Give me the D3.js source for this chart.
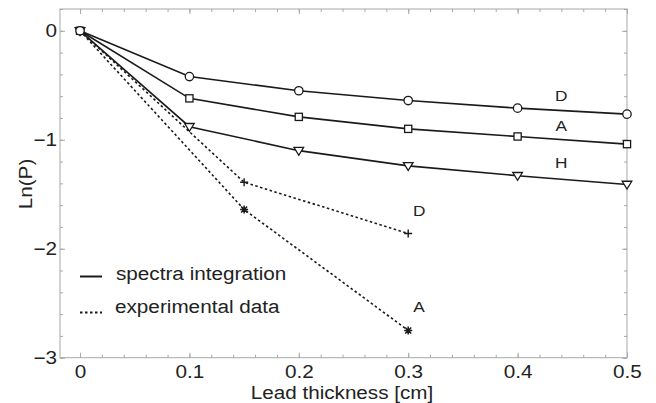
<!DOCTYPE html>
<html><head><meta charset="utf-8">
<script src="https://cdn.jsdelivr.net/npm/d3@7"></script>
<style>body{margin:0;background:#fff}svg{display:block}text{font-family:"Liberation Sans",Arial,sans-serif;fill:#222}</style>
</head><body>
<svg id="c" width="656" height="403"></svg>
<script>
const xMajor = [0, 0.1, 0.2, 0.3, 0.4, 0.5];
const yMajor = [-3, -2, -1, 0];
const xTickLabels = ["0", "0.1", "0.2", "0.3", "0.4", "0.5"];
const yTickLabels = ["\u22123", "\u22122", "\u22121", "0"];
const thickSim = [0, 0.1, 0.2, 0.3, 0.4, 0.5];
const simD = [0, -0.42, -0.55, -0.64, -0.71, -0.765];
const simA = [0, -0.62, -0.79, -0.90, -0.97, -1.04];
const simH = [0, -0.88, -1.10, -1.24, -1.33, -1.41];
const thickExp = [0, 0.15, 0.3];
const expD = [0, -1.39, -1.86];
const expA = [0, -1.64, -2.75];
const legendLabels = ["spectra integration", "experimental data"];

const svg = d3.select("#c");
const L = 60, R = 627, T = 9, B = 357.7;
const x = d3.scaleLinear().domain([-0.0183, 0.5]).range([L, R]);
const y = d3.scaleLinear().domain([-3, 0.2]).range([B, T]);
const axisColor = "#a8a8a8";
const xMinor = d3.range(0, 0.5001, 0.02);
const yMinor = d3.range(-3, 0.2001, 0.2);
const FS = 18;

function styleAxis(g) {
  g.select(".domain").remove();
  g.selectAll(".tick line").attr("stroke", axisColor);
}
// minor ticks
svg.append("g").attr("transform", `translate(0,${B})`).call(d3.axisBottom(x).tickValues(xMinor).tickSize(-3).tickFormat("")).call(styleAxis);
svg.append("g").attr("transform", `translate(0,${T})`).call(d3.axisTop(x).tickValues(xMinor).tickSize(-3).tickFormat("")).call(styleAxis);
svg.append("g").attr("transform", `translate(${L},0)`).call(d3.axisLeft(y).tickValues(yMinor).tickSize(-3).tickFormat("")).call(styleAxis);
svg.append("g").attr("transform", `translate(${R},0)`).call(d3.axisRight(y).tickValues(yMinor).tickSize(-3).tickFormat("")).call(styleAxis);
// major ticks with labels
const gx = svg.append("g").attr("transform", `translate(0,${B})`)
  .call(d3.axisBottom(x).tickValues(xMajor).tickSize(-5).tickPadding(8).tickFormat((d, i) => xTickLabels[i])).call(styleAxis);
gx.selectAll("text").attr("font-size", FS).attr("fill", "#222").attr("dy", "0.71em").classed("wide", true);
svg.append("g").attr("transform", `translate(0,${T})`).call(d3.axisTop(x).tickValues(xMajor).tickSize(-5).tickFormat("")).call(styleAxis);
const gy = svg.append("g").attr("transform", `translate(${L},0)`)
  .call(d3.axisLeft(y).tickValues(yMajor).tickSize(-5).tickPadding(3).tickFormat((d, i) => yTickLabels[i])).call(styleAxis);
gy.selectAll("text").attr("font-size", FS).attr("fill", "#222").classed("wide", true);
svg.append("g").attr("transform", `translate(${R},0)`).call(d3.axisRight(y).tickValues(yMajor).tickSize(-5).tickFormat("")).call(styleAxis);
// frame
svg.append("rect").attr("x", L).attr("y", T).attr("width", R - L).attr("height", B - T)
  .attr("fill", "none").attr("stroke", axisColor).attr("stroke-width", 1);

const line = d3.line().x(d => x(d[0])).y(d => y(d[1]));
const ink = "#1a1a1a";
const DASH = "2.5,2.5";
function drawSeries(xs, ys, dashed, marker) {
  const pts = xs.map((v, i) => [v, ys[i]]);
  svg.append("path").datum(pts).attr("d", line).attr("fill", "none").attr("stroke", ink)
    .attr("stroke-width", 1.6).attr("stroke-dasharray", dashed ? DASH : null);
  const g = svg.append("g");
  pts.forEach(p => marker(g.append("g").attr("transform", `translate(${x(p[0])},${y(p[1])})`)));
}
const mCircle = g => g.append("circle").attr("r", 4.2).attr("fill", "#fff").attr("stroke", ink).attr("stroke-width", 1.3);
const mSquare = g => g.append("rect").attr("x", -3.6).attr("y", -3.6).attr("width", 7.2).attr("height", 7.2).attr("fill", "#fff").attr("stroke", ink).attr("stroke-width", 1.3);
const mTri = g => g.append("path").attr("d", "M-4.8,-3.2L4.8,-3.2L0,4.6Z").attr("fill", "#fff").attr("stroke", ink).attr("stroke-width", 1.3);
const mPlus = g => g.append("path").attr("d", "M-4,0L4,0M0,-4L0,4").attr("stroke", ink).attr("stroke-width", 1.4);
const mStar = g => g.append("path").attr("d", "M-4,0L4,0M0,-4L0,4M-3,-3L3,3M-3,3L3,-3").attr("stroke", ink).attr("stroke-width", 1.5);

drawSeries(thickExp, expD, true, mPlus);
drawSeries(thickExp, expA, true, mStar);
drawSeries(thickSim, simH, false, mTri);
drawSeries(thickSim, simA, false, mSquare);
drawSeries(thickSim, simD, false, mCircle);

// series labels
const lab = (t, px, py) => svg.append("text").attr("x", px).attr("y", py).attr("text-anchor", "middle")
  .attr("dominant-baseline", "central").attr("font-size", 15).classed("wide", true).text(t);
lab("D", x(0.44), y(-0.59));
lab("A", x(0.44), y(-0.87));
lab("H", x(0.44), y(-1.21));
lab("D", x(0.31), y(-1.65));
lab("A", x(0.31), y(-2.53));

// legend
const lx0 = 80, lx1 = 102;
svg.append("line").attr("x1", lx0).attr("x2", lx1).attr("y1", 276.5).attr("y2", 276.5).attr("stroke", ink).attr("stroke-width", 2);
svg.append("line").attr("x1", lx0).attr("x2", lx1).attr("y1", 312.5).attr("y2", 312.5).attr("stroke", ink).attr("stroke-width", 1.8).attr("stroke-dasharray", DASH);
svg.append("text").attr("x", 116).attr("y", 280).attr("font-size", FS).classed("wide", true).text(legendLabels[0]);
svg.append("text").attr("x", 115).attr("y", 313).attr("font-size", FS).classed("wide", true).text(legendLabels[1]);

// axis titles
svg.append("text").attr("x", 342).attr("y", 398.5).attr("text-anchor", "middle").attr("font-size", 17.5).attr("data-k", 1.18).classed("wide", true).text("Lead thickness [cm]");
svg.append("text").attr("transform", "translate(32,184) rotate(-90)").attr("text-anchor", "middle").attr("font-size", FS).classed("wide", true).text("Ln(P)");

// widen glyphs to match the reference typeface proportions
svg.selectAll("text.wide").each(function () {
  const k = +(this.getAttribute("data-k") || 1.15);
  const w = this.getComputedTextLength();
  d3.select(this).attr("textLength", w * k).attr("lengthAdjust", "spacingAndGlyphs");
});
</script>
</body></html>
